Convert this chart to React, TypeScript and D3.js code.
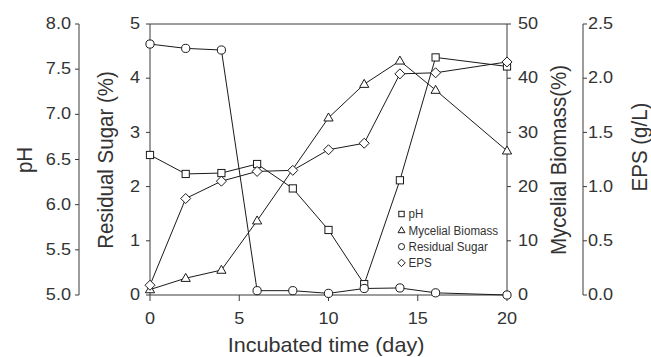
import React from "react";
import * as d3 from "d3";

const days = [0, 2, 4, 6, 8, 10, 12, 14, 16, 20];
const phValues = [6.55, 6.34, 6.35, 6.45, 6.18, 5.72, 5.12, 6.27, 7.63, 7.53];
const sugarValues = [4.63, 4.55, 4.52, 0.08, 0.08, 0.03, 0.12, 0.13, 0.04, 0.0];
const biomassDays = [0, 2, 4, 6, 10, 12, 14, 16, 20];
const biomassValues = [1.0, 3.1, 4.6, 13.7, 32.7, 38.9, 43.2, 37.8, 26.6];
const epsValues = [0.09, 0.89, 1.05, 1.14, 1.15, 1.34, 1.4, 2.04, 2.05, 2.15];

const xTicks = [0, 5, 10, 15, 20];
const phTicks = [5.0, 5.5, 6.0, 6.5, 7.0, 7.5, 8.0];
const sugarTicks = [0, 1, 2, 3, 4, 5];
const biomassTicks = [0, 10, 20, 30, 40, 50];
const epsTicks = [0.0, 0.5, 1.0, 1.5, 2.0, 2.5];
const legendItems = ["pH", "Mycelial Biomass", "Residual Sugar", "EPS"];

const W = 651, H = 357;
const L = 150, R = 507, T = 24, B = 295;
const PH_X = 79, EPS_X = 583;
const FONT = "'Liberation Sans', Arial, Helvetica, sans-serif";
const TXT = "#333";
const AX = "#3a3a3a";
const SX = 1.13;

const x = d3.scaleLinear().domain([0, 20]).range([L, R]);
const yPH = d3.scaleLinear().domain([5, 8]).range([B, T]);
const ySugar = d3.scaleLinear().domain([0, 5]).range([B, T]);
const yBio = d3.scaleLinear().domain([0, 50]).range([B, T]);
const yEPS = d3.scaleLinear().domain([0, 2.5]).range([B, T]);

type Shape = "square" | "triangle" | "circle" | "diamond";

function Marker({ cx, cy, shape, s = 1 }: { cx: number; cy: number; shape: Shape; s?: number }) {
  const common = { fill: "#fff", stroke: "#1a1a1a", strokeWidth: 1 };
  if (shape === "square") {
    const h = 3.6 * s;
    return <rect x={cx - h} y={cy - h} width={2 * h} height={2 * h} {...common} />;
  }
  if (shape === "circle") return <circle cx={cx} cy={cy} r={4.1 * s} {...common} />;
  if (shape === "diamond") {
    const h = 5 * s;
    return <path d={`M${cx},${cy - h}L${cx + h},${cy}L${cx},${cy + h}L${cx - h},${cy}Z`} {...common} />;
  }
  const w = 4.6 * s;
  return <path d={`M${cx},${cy - 4.8 * s}L${cx + w},${cy + 3.2 * s}L${cx - w},${cy + 3.2 * s}Z`} {...common} />;
}

function T2({ x: tx, y: ty, children, size = 16, anchor = "middle", rotate = 0, sx = SX, baseline = "central", family = FONT }: any) {
  return (
    <text
      transform={`translate(${tx},${ty}) scale(${sx},1)${rotate ? ` rotate(${rotate})` : ""}`}
      textAnchor={anchor}
      dominantBaseline={baseline}
      fontSize={size}
      fontFamily={family}
      fill={TXT}
    >
      {children}
    </text>
  );
}

export default function App() {
  const line = (xs: number[], ys: number[], ys2: (v: number) => number) =>
    d3.line<number>().x((_, i) => x(xs[i])).y((v) => ys2(v))(ys) || "";

  const series: { xs: number[]; vs: number[]; sc: (v: number) => number; shape: Shape }[] = [
    { xs: days, vs: phValues, sc: yPH, shape: "square" },
    { xs: biomassDays, vs: biomassValues, sc: yBio, shape: "triangle" },
    { xs: days, vs: epsValues, sc: yEPS, shape: "diamond" },
    { xs: days, vs: sugarValues, sc: ySugar, shape: "circle" },
  ];
  const legendShapes: Shape[] = ["square", "triangle", "circle", "diamond"];

  return (
    <svg width={W} height={H} style={{ position: "absolute", left: 0, top: 0, background: "#fff" }}>
      <rect width={W} height={H} fill="#fff" />
      {/* pH axis */}
      <line x1={PH_X} x2={PH_X} y1={T} y2={B} stroke={AX} />
      {phTicks.map((t) => (
        <g key={"ph" + t}>
          <line x1={PH_X - 4} x2={PH_X} y1={yPH(t)} y2={yPH(t)} stroke={AX} />
          <T2 x={71} y={yPH(t)} anchor="end">{t.toFixed(1)}</T2>
        </g>
      ))}
      {/* sugar axis */}
      <line x1={L} x2={L} y1={T} y2={B} stroke={AX} />
      {sugarTicks.map((t) => (
        <g key={"su" + t}>
          <line x1={L - 4} x2={L} y1={ySugar(t)} y2={ySugar(t)} stroke={AX} />
          <T2 x={140} y={ySugar(t)} anchor="end">{t}</T2>
        </g>
      ))}
      {/* top border and right axis */}
      <line x1={L} x2={R} y1={T} y2={T} stroke={AX} />
      <line x1={R} x2={R} y1={T} y2={B} stroke={AX} />
      {biomassTicks.map((t) => (
        <g key={"bi" + t}>
          <line x1={R} x2={R + 4} y1={yBio(t)} y2={yBio(t)} stroke={AX} />
          <T2 x={518} y={yBio(t)} anchor="start">{t}</T2>
        </g>
      ))}
      {/* EPS axis */}
      <line x1={EPS_X} x2={EPS_X} y1={T} y2={B} stroke={AX} />
      {epsTicks.map((t) => (
        <g key={"ep" + t}>
          <line x1={EPS_X} x2={EPS_X + 4} y1={yEPS(t)} y2={yEPS(t)} stroke={AX} />
          <T2 x={588} y={yEPS(t)} anchor="start">{t.toFixed(1)}</T2>
        </g>
      ))}
      {/* x axis */}
      <line x1={L} x2={R} y1={B} y2={B} stroke={AX} />
      {xTicks.map((t) => (
        <g key={"x" + t}>
          <line x1={x(t)} x2={x(t)} y1={B} y2={B + 6} stroke={AX} />
          <T2 x={x(t)} y={319} anchor="middle">{t}</T2>
        </g>
      ))}
      {/* titles */}
      <T2 x={326} y={352} size={20} sx={1.08} baseline="alphabetic">Incubated time (day)</T2>
      <T2 x={32} y={160} size={20.5} sx={1.08} rotate={-90} baseline="alphabetic">pH</T2>
      <T2 x={113} y={160} size={20.5} sx={1.08} rotate={-90} baseline="alphabetic">Residual Sugar (%)</T2>
      <T2 x={566} y={160} size={20.5} sx={1.08} rotate={-90} baseline="alphabetic">Mycelial Biomass(%)</T2>
      <T2 x={647} y={147} size={20.5} sx={1.08} rotate={-90} baseline="alphabetic">EPS (g/L)</T2>
      {/* lines */}
      {series.map((s, i) => (
        <path key={"l" + i} d={line(s.xs, s.vs, s.sc)} fill="none" stroke="#1a1a1a" strokeWidth={1} />
      ))}
      {series.map((s, i) =>
        s.vs.map((v, j) => <Marker key={`m${i}-${j}`} cx={x(s.xs[j])} cy={s.sc(v)} shape={s.shape} />)
      )}
      {/* legend */}
      {legendItems.map((name, i) => (
        <g key={"lg" + i}>
          <Marker cx={401.5} cy={214 + i * 16.3} shape={legendShapes[i]} s={0.75} />
          <T2 x={408.5} y={214 + i * 16.3} anchor="start" size={13.5} sx={0.86}>{name}</T2>
        </g>
      ))}
    </svg>
  );
}
